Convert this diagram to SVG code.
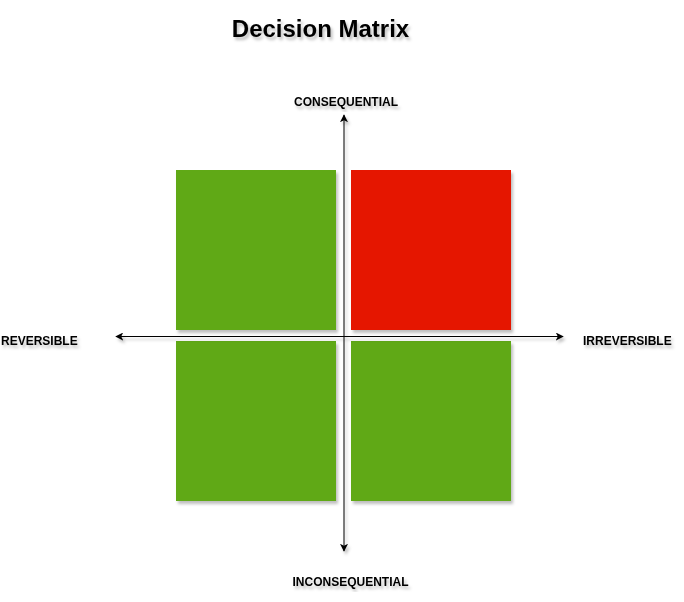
<svg xmlns="http://www.w3.org/2000/svg" width="684" height="602" viewBox="0 0 684 602">
  <style>
    .lbl { font-family: "Liberation Sans", Arial, sans-serif; font-weight: bold; font-size: 12px; fill: #000; }
    .title { font-family: "Liberation Sans", Arial, sans-serif; font-weight: bold; font-size: 24px; fill: #000; }
    .axis { stroke: #000; stroke-width: 1; fill: none; }
    .green { fill: #60A917; }
    .red { fill: #E51400; }
  </style>
  <defs>
    <filter id="sh" x="-20%" y="-20%" width="140%" height="140%">
      <feDropShadow dx="2" dy="3" stdDeviation="1.5" flood-color="#000" flood-opacity="0.25"/>
    </filter>
    <marker id="arr" viewBox="0 0 10 10" refX="9" refY="5" markerWidth="8" markerHeight="8" markerUnits="userSpaceOnUse" orient="auto">
      <path d="M0,0 L10,5 L0,10 L2.5,5 Z" fill="#000"/>
    </marker>
  </defs>
  <rect width="684" height="602" fill="#fff"/>

  <g id="title" filter="url(#sh)">
    <text class="title" x="320.5" y="37" text-anchor="middle">Decision Matrix</text>
  </g>

  <g id="node-tl" filter="url(#sh)">
    <rect class="green" x="176" y="170" width="160" height="160"/>
  </g>
  <g id="node-tr" filter="url(#sh)">
    <rect class="red" x="351" y="170" width="160" height="160"/>
  </g>
  <g id="node-bl" filter="url(#sh)">
    <rect class="green" x="176" y="341" width="160" height="160"/>
  </g>
  <g id="node-br" filter="url(#sh)">
    <rect class="green" x="351" y="341" width="160" height="160"/>
  </g>

  <g id="connectors" filter="url(#sh)">
    <line class="axis" x1="344" y1="336" x2="344" y2="115" marker-end="url(#arr)"/>
    <line class="axis" x1="344" y1="336" x2="344" y2="551" marker-end="url(#arr)"/>
    <line class="axis" x1="344" y1="336.5" x2="116" y2="336.5" marker-end="url(#arr)"/>
    <line class="axis" x1="344" y1="336.5" x2="563" y2="336.5" marker-end="url(#arr)"/>
  </g>

  <g id="label-consequential" filter="url(#sh)">
    <text class="lbl" x="346" y="105.5" text-anchor="middle">CONSEQUENTIAL</text>
  </g>
  <g id="label-inconsequential" filter="url(#sh)">
    <text class="lbl" x="350.5" y="586" text-anchor="middle">INCONSEQUENTIAL</text>
  </g>
  <g id="label-reversible" filter="url(#sh)">
    <text class="lbl" x="1" y="345">REVERSIBLE</text>
  </g>
  <g id="label-irreversible" filter="url(#sh)">
    <text class="lbl" x="583" y="345">IRREVERSIBLE</text>
  </g>
</svg>
